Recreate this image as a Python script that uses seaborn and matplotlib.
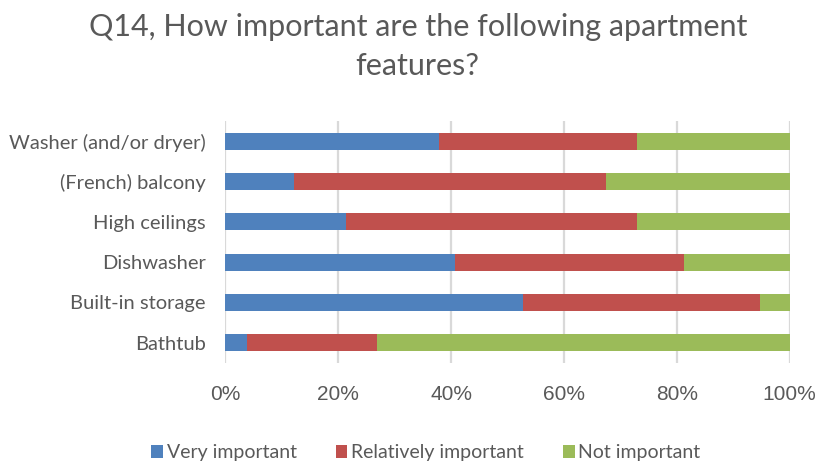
import matplotlib
matplotlib.use("Agg")
import matplotlib.pyplot as plt
from matplotlib.patches import Patch
from matplotlib import font_manager
import seaborn as sns
import pandas as pd
import numpy as np

features = ["Washer (and/or dryer)", "(French) balcony", "High ceilings",
            "Dishwasher", "Built-in storage", "Bathtub"]
very_important = [37.8, 12.2, 21.4, 40.7, 52.8, 3.8]
relatively_important = [35.1, 55.3, 51.5, 40.6, 41.9, 23.1]
not_important = [27.1, 32.5, 27.1, 18.7, 5.3, 73.1]
tick_labels = ["0%", "20%", "40%", "60%", "80%", "100%"]

series_names = ["Very important", "Relatively important", "Not important"]
colors = ["#4f81bd", "#c0504d", "#9bbb59"]
text_gray = "#595959"

sns.set_theme(style="white")
plt.rcParams["font.family"] = ["Lato", "DejaVu Sans"]

# narrow face for the percentage ticks, if one is installed
installed = {f.name for f in font_manager.fontManager.ttflist}
tick_family = next((f for f in ["Liberation Sans Narrow", "DejaVu Sans Condensed",
                                "Liberation Sans"] if f in installed), "DejaVu Sans")

df = pd.DataFrame({
    "feature": features,
    "very": np.array(very_important) / 100,
    "rel": np.array(relatively_important) / 100,
    "not": np.array(not_important) / 100,
})
df["cum1"] = df["very"]
df["cum2"] = df["very"] + df["rel"]
df["cum3"] = df["cum2"] + df["not"]

fig = plt.figure(figsize=(8.19, 4.63), dpi=100)
ax = fig.add_axes([0.2751, 0.216, 0.6891, 0.5227])

# stacked bars: draw cumulative totals from longest to shortest
for col, color in zip(["cum3", "cum2", "cum1"], colors[::-1]):
    sns.barplot(data=df, x=col, y="feature", orient="h", color=color,
                width=0.42, ax=ax, saturation=1, linewidth=0, zorder=3)

ax.set_xlim(0, 1)
ax.set_ylim(5.5, -0.5)
ax.set_xticks([0, 0.2, 0.4, 0.6, 0.8, 1.0])
ax.set_xticklabels(tick_labels, family=[tick_family, "DejaVu Sans"])
ax.tick_params(axis="x", labelsize=15, colors=text_gray, length=0, pad=16)
ax.tick_params(axis="y", labelsize=14.5, colors=text_gray, length=0, pad=14)
ax.set_xlabel("")
ax.set_ylabel("")
ax.xaxis.grid(True, color="#d9d9d9", linewidth=1.6, zorder=0)
ax.set_axisbelow(True)
for s in ax.spines.values():
    s.set_visible(False)

fig.text(0.51, 0.942, "Q14, How important are the following apartment",
         ha="center", va="center", fontsize=22, color=text_gray)
fig.text(0.51, 0.858, "features?",
         ha="center", va="center", fontsize=22, color=text_gray)

handles = [Patch(facecolor=c, edgecolor="none") for c in colors]
fig.legend(handles, series_names, loc="center", bbox_to_anchor=(0.52, 0.022),
           ncol=3, frameon=False, fontsize=14, labelcolor=text_gray,
           handlelength=0.6, handleheight=0.6, handletextpad=0.2,
           columnspacing=2.0)

fig.savefig("out.png", dpi=100, facecolor="white")
